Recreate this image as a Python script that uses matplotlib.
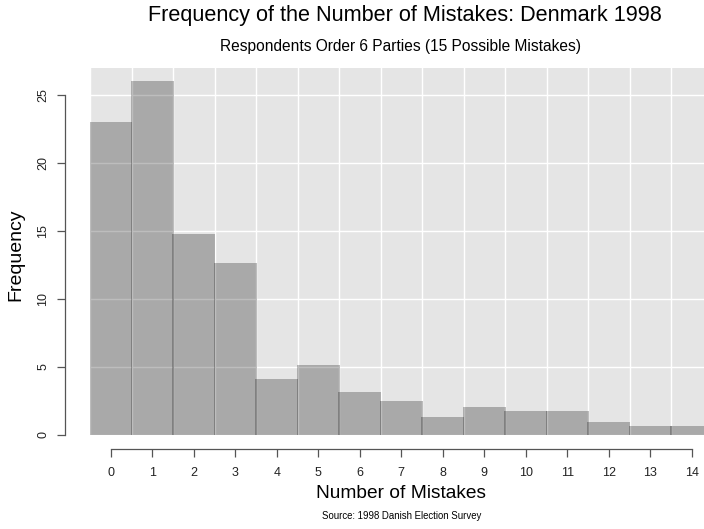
import matplotlib

matplotlib.use("Agg")
import matplotlib.pyplot as plt  # noqa: E402

plt.rcParams["font.family"] = ["Liberation Sans", "DejaVu Sans"]

# Share of respondents (%) by number of ordering mistakes
mistakes = list(range(15))
frequency = [23.0, 26.05, 14.8, 12.65, 4.1, 5.13, 3.14, 2.5, 1.3, 2.04, 1.77, 1.77, 0.93, 0.64, 0.64]
y_ticks = [0, 5, 10, 15, 20, 25]

BIN_PX = 41.5  # width of one bin in pixels

fig = plt.figure(figsize=(7.04, 5.29), dpi=100)
ax = fig.add_axes([90 / 704, 1 - 435 / 529, 614 / 704, (435 - 68) / 529])

ax.set_facecolor("#e5e5e5")
ax.set_xlim(-0.5, -0.5 + 614 / BIN_PX)
ax.set_ylim(0, 27)

# white grid on bin edges and y ticks, drawn under the translucent bars
for e in range(17):
    ax.axvline(e - 0.5, color="white", lw=1.0, zorder=1)
for t in y_ticks:
    ax.axhline(t, color="white", lw=1.0, zorder=1)

# bars overlap by about a pixel, which leaves a darker seam between neighbours
ax.bar(mistakes, frequency, width=1 + 1.2 / BIN_PX, facecolor=(0, 0, 0, 0.258),
       edgecolor="none", linewidth=0, zorder=2)

for s in ("top", "right"):
    ax.spines[s].set_visible(False)
ax.spines["left"].set_position(("outward", 18.0))
ax.spines["left"].set_bounds(0, 25)
ax.spines["bottom"].set_position(("outward", 10.3))
ax.spines["bottom"].set_bounds(0, 14)
for s in ("left", "bottom"):
    ax.spines[s].set_color("#555555")
    ax.spines[s].set_linewidth(0.9)

ax.set_xticks(mistakes)
ax.set_yticks(y_ticks)
ax.tick_params(axis="both", length=5.5, width=0.9, color="#555555", labelsize=9,
               labelcolor="#222222")
ax.tick_params(axis="x", pad=7)
ax.tick_params(axis="y", pad=6)
for lbl in ax.get_yticklabels():
    lbl.set_rotation(90)
    lbl.set_va("center")

fig.text(405 / 704, 1 - 15 / 529, "Frequency of the Number of Mistakes: Denmark 1998",
         ha="center", va="center", fontsize=15.6)
fig.text(400 / 704, 1 - 47 / 529, "Respondents Order 6 Parties (15 Possible Mistakes)",
         ha="center", va="center", fontsize=11.2)
fig.text(401 / 704, 1 - 494 / 529, "Number of Mistakes", ha="center", va="center",
         fontsize=13.8)
fig.text(402 / 704, 1 - 516 / 529, "Source: 1998 Danish Election Survey",
         ha="center", va="center", fontsize=6.9)
fig.text(16 / 704, 1 - 255 / 529, "Frequency", ha="center", va="center", rotation=90,
         fontsize=14)

fig.savefig("out.png", dpi=100)
